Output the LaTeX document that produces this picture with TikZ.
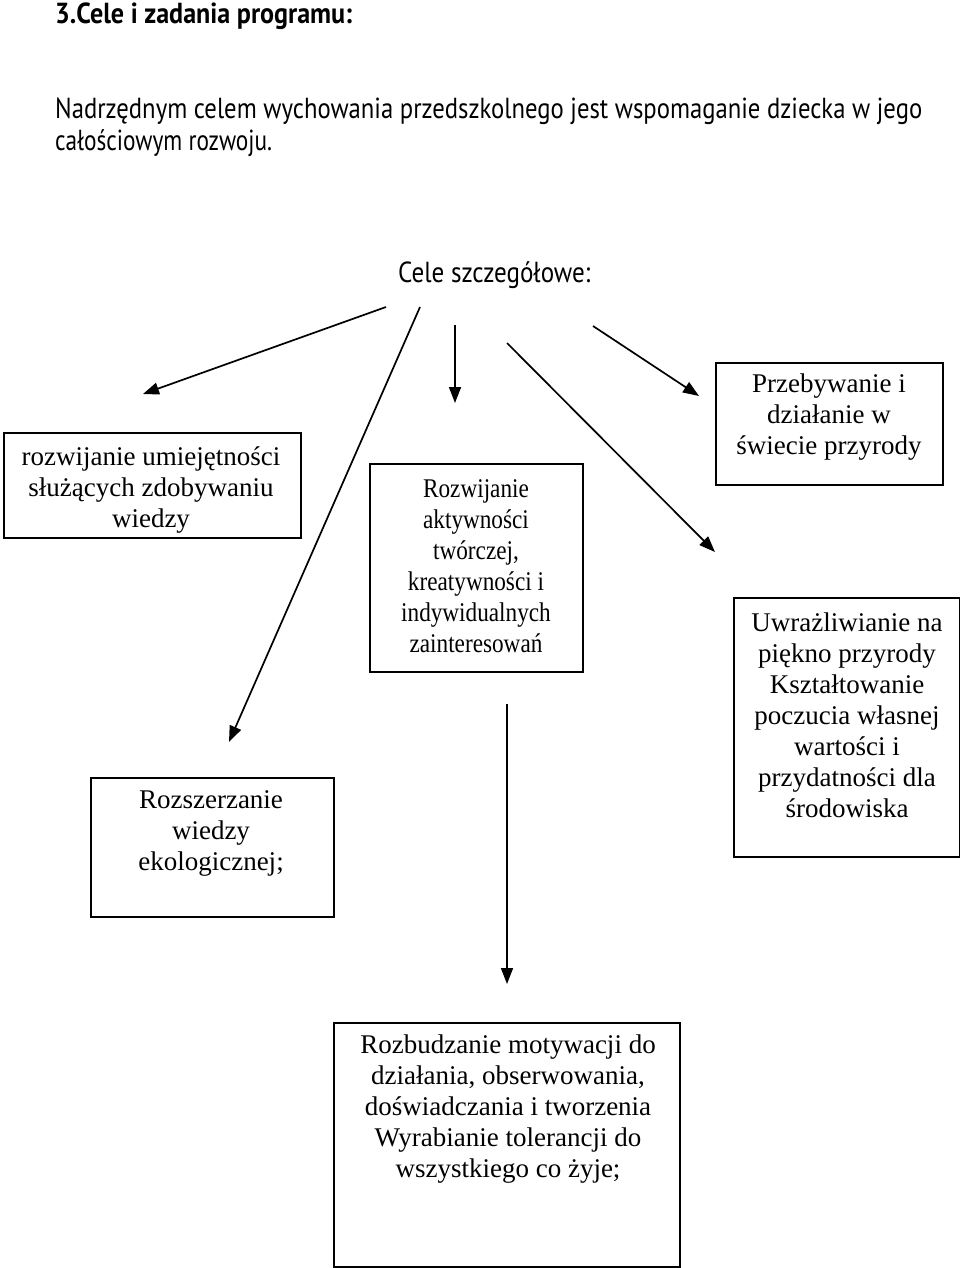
\documentclass[tikz,border=0pt]{standalone}
\usepackage{fontspec}
\usepackage{graphicx}
\setmainfont{Liberation Serif}
\newfontfamily\comic{PT Sans}
\usetikzlibrary{arrows.meta}
\begin{document}
\begin{tikzpicture}[x=1pt,y=-1pt,
  boxframe/.style={draw, line width=1.6pt, rectangle, inner sep=0pt, anchor=north west},
  boxtxt/.style={align=center, inner sep=0pt, font=\fontsize{27}{31}\selectfont},
  comictxt/.style={anchor=base west, inner sep=0pt},
  arr/.style={line width=1.7pt, -{Triangle[length=16pt,width=12pt]}}]
\useasboundingbox (0,0) rectangle (960,1268);

% headings (Comic-like text)
\node[comictxt] (title) at (55,24) {\resizebox{297pt}{\height}{\comic\bfseries\fontsize{29}{33}\selectfont 3.Cele i zadania programu:}};
\node[comictxt] (intro1) at (55,119) {\resizebox{867pt}{\height}{\comic\fontsize{29}{33}\selectfont Nadrzędnym celem wychowania przedszkolnego jest wspomaganie dziecka w jego}};
\node[comictxt] (intro2) at (55,151) {\resizebox{217pt}{\height}{\comic\fontsize{29}{33}\selectfont całościowym rozwoju.}};
\node[comictxt] (cele) at (398,282) {\resizebox{192pt}{\height}{\comic\fontsize{29}{33}\selectfont Cele szczegółowe:}};

% boxes
\node[boxframe, minimum width=297pt, minimum height=105pt] (bA) at (3,432) {};
\node[boxtxt] (tA) at (151,490) {rozwijanie umiejętności\\służących zdobywaniu\\wiedzy};

\node[boxframe, minimum width=213pt, minimum height=208pt] (bB) at (369,463) {};
\node[boxtxt, xscale=0.86, transform shape] (tB) at (476,566) {Rozwijanie\\aktywności\\twórczej,\\kreatywności i\\indywidualnych\\zainteresowań};

\node[boxframe, minimum width=227pt, minimum height=122pt] (bC) at (715,362) {};
\node[boxtxt] (tC) at (829,417) {Przebywanie i\\działanie w\\świecie przyrody};

\node[boxframe, minimum width=226pt, minimum height=259pt] (bD) at (733,597) {};
\node[boxtxt] (tD) at (847,715) {Uwrażliwianie na\\piękno przyrody\\Kształtowanie\\poczucia własnej\\wartości i\\przydatności dla\\środowiska};

\node[boxframe, minimum width=243pt, minimum height=139pt] (bE) at (90,777) {};
\node[boxtxt] (tE) at (211,833) {Rozszerzanie\\wiedzy\\ekologicznej;};

\node[boxframe, minimum width=346pt, minimum height=244pt] (bF) at (333,1022) {};
\node[boxtxt] (tF) at (508,1109) {Rozbudzanie motywacji do\\działania, obserwowania,\\doświadczania i tworzenia\\Wyrabianie tolerancji do\\wszystkiego co żyje;};

% arrows
\coordinate (s1) at (386,307); \coordinate (e1) at (143,394);
\coordinate (s2) at (420,307); \coordinate (e2) at (229,742);
\coordinate (s3) at (455,325); \coordinate (e3) at (455,403);
\coordinate (s4) at (507,343); \coordinate (e4) at (715,552);
\coordinate (s5) at (593,326); \coordinate (e5) at (699,396);
\coordinate (s6) at (507,704); \coordinate (e6) at (507,984);
\draw[arr] (s1) -- (e1);
\draw[arr] (s2) -- (e2);
\draw[arr] (s3) -- (e3);
\draw[arr] (s4) -- (e4);
\draw[arr] (s5) -- (e5);
\draw[arr] (s6) -- (e6);
\end{tikzpicture}
\end{document}
